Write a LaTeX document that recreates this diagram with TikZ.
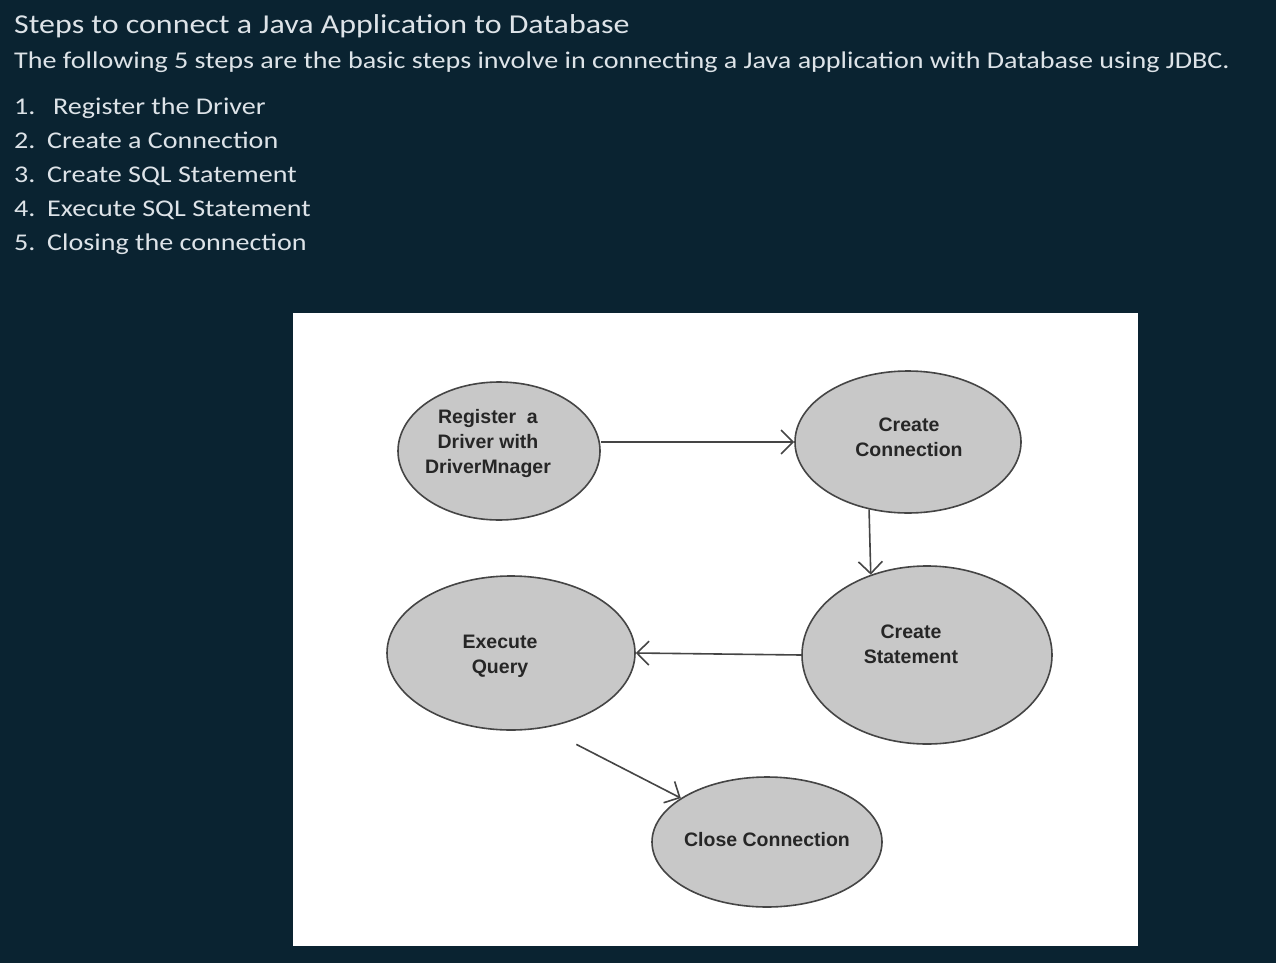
\documentclass[tikz,border=0pt]{standalone}
\usepackage{fontspec}
\setmainfont[FakeStretch=1.17]{Carlito}
\newfontfamily\diagfont{Liberation Sans}
\usepackage{tikz}
\usetikzlibrary{arrows.meta,shapes.geometric}
\definecolor{slidebg}{HTML}{0A2331}
\definecolor{slidefg}{HTML}{DDE3E8}
\definecolor{stagefill}{HTML}{C8C8C8}
\definecolor{stageline}{HTML}{454545}
\tikzstyle{stage}=[ellipse,draw=stageline,fill=stagefill,line width=1.6pt,inner sep=0pt]
\tikzstyle{stagetext}=[align=center,inner sep=0pt,text=black!85,font=\diagfont\bfseries\fontsize{19.5}{25}\selectfont]
\tikzstyle{flow}=[-{Straight Barb[length=12pt,width=24pt]},line width=1.6pt,draw=stageline]
\tikzstyle{slidetext}=[anchor=base west,inner sep=0pt,text=slidefg]
\begin{document}
\begin{tikzpicture}[x=1pt,y=-1pt]

%%% Slide

\useasboundingbox (0,0) rectangle (1276,963);
\fill [slidebg] (0,0) rectangle (1276,963);

%%% Heading

\node [slidetext,font=\fontsize{27.3}{32}\selectfont] (title) at (14,34)
{Steps to connect a Java Application to Database};

\node [slidetext,font=\fontsize{24}{28}\selectfont] (intro) at (14,69)
{The following 5 steps are the basic steps involve in connecting a Java application with Database using JDBC.};

%%% Step list

\node [slidetext,font=\fontsize{24}{29}\selectfont] (num1) at (14,115) {1.};
\node [slidetext,font=\fontsize{24}{29}\selectfont] (item1) at (53,115) {Register the Driver};

\node [slidetext,font=\fontsize{24}{29}\selectfont] (num2) at (14,149) {2.};
\node [slidetext,font=\fontsize{24}{29}\selectfont] (item2) at (47,149) {Create a Connection};

\node [slidetext,font=\fontsize{24}{29}\selectfont] (num3) at (14,182.5) {3.};
\node [slidetext,font=\fontsize{24}{29}\selectfont] (item3) at (47,182.5) {Create SQL Statement};

\node [slidetext,font=\fontsize{24}{29}\selectfont] (num4) at (14,216) {4.};
\node [slidetext,font=\fontsize{24}{29}\selectfont] (item4) at (47,216) {Execute SQL Statement};

\node [slidetext,font=\fontsize{24}{29}\selectfont] (num5) at (14,250) {5.};
\node [slidetext,font=\fontsize{24}{29}\selectfont] (item5) at (47,250) {Closing the connection};

%%% Diagram panel

\fill [white] (293,313) rectangle (1138,946);

% Register Driver

\node [stage,minimum width=202pt,minimum height=138pt] (reg) at (499,451) {};
\node [stagetext,xshift=-11pt,yshift=8pt] (regtext) at (reg)
{Register~ a \\ Driver with \\ DriverMnager};

% Create Connection

\node [stage,minimum width=226pt,minimum height=142pt] (conn) at (908,442) {};
\node [stagetext,xshift=1pt,yshift=5pt] (conntext) at (conn)
{Create \\ Connection};

% Create Statement

\node [stage,minimum width=250pt,minimum height=178pt] (stmt) at (927,655) {};
\node [stagetext,xshift=-16pt,yshift=11pt] (stmttext) at (stmt)
{Create \\ Statement};

% Execute Query

\node [stage,minimum width=248pt,minimum height=154pt] (exec) at (511,653) {};
\node [stagetext,xshift=-11pt,yshift=-3pt] (exectext) at (exec)
{Execute \\ Query};

% Close Connection

\node [stage,minimum width=230pt,minimum height=130pt] (close) at (767,842) {};
\node [stagetext,yshift=2pt] (closetext) at (close)
{Close Connection};

%%% Arrows

\draw [flow] (reg.east |- conn.west) -- (conn.west);

\draw [flow] (conn.240.4) -- (stmt.125.8);

\draw [flow] (stmt.west) -- (exec.east);

\draw [flow,shorten <=36pt] (exec.-66) -- (close.153);

\end{tikzpicture}
\end{document}
